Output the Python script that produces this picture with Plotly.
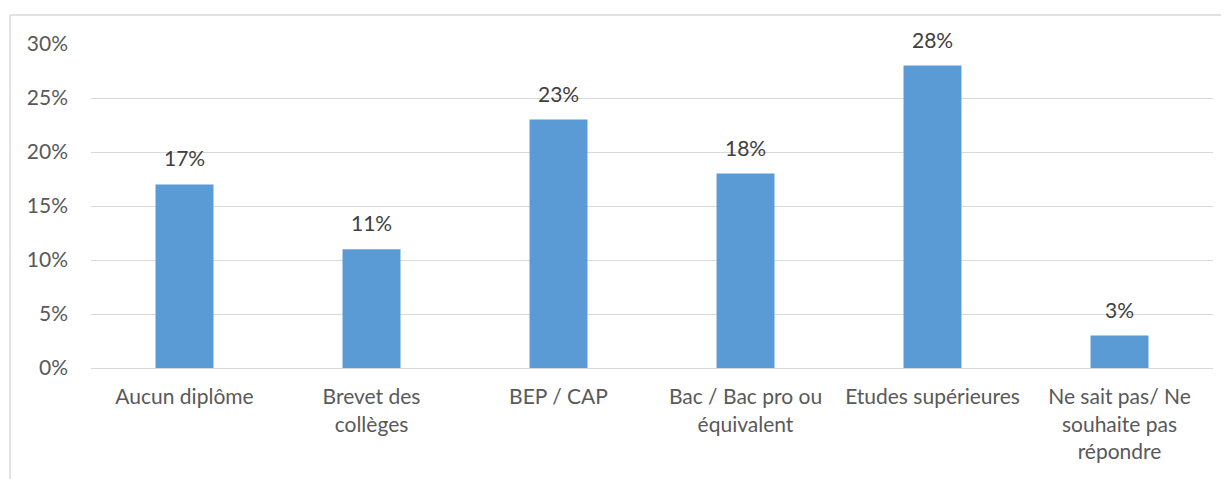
import plotly.graph_objects as go

categories = ["Aucun diplôme", "Brevet des<br>collèges", "BEP / CAP",
              "Bac / Bac pro ou<br>équivalent", "Etudes supérieures",
              "Ne sait pas/ Ne<br>souhaite pas<br>répondre"]
values = [0.17, 0.11, 0.23, 0.18, 0.28, 0.03]
labels = ["17%", "11%", "23%", "18%", "28%", "3%"]
tick_vals = [0, 0.05, 0.10, 0.15, 0.20, 0.25, 0.30]
tick_text = ["0%", "5%", "10%", "15%", "20%", "25%", "30%"]

FONT = "Lato, 'Open Sans', sans-serif"
FS = 21

fig = go.Figure(go.Bar(
    x=categories, y=values,
    marker=dict(color="#5B9BD5", line=dict(width=0)),
    hoverinfo="x+y",
))

for c, v, t in zip(categories, values, labels):
    fig.add_annotation(x=c, y=v, text=t, showarrow=False, yanchor="bottom",
                       yshift=12, font=dict(size=FS, color="#404040", family=FONT))

# page body has an 8px margin
W, H = 1221, 471
ml, mr, mt, mb = 83, 16, 36, 111
pw, ph = W - ml - mr, H - mt - mb

fig.update_layout(
    width=W, height=H,
    margin=dict(l=ml, r=mr, t=mt, b=mb),
    plot_bgcolor="white", paper_bgcolor="white",
    bargap=0.69, showlegend=False,
    font=dict(family=FONT, size=FS, color="#595959"),
    xaxis=dict(showgrid=False, showline=True, linecolor="#D9D9D9", linewidth=1,
               ticks="", ticklabelstandoff=10,
               tickfont=dict(size=FS, color="#595959")),
    yaxis=dict(range=[0, 0.30], tickvals=tick_vals, ticktext=tick_text,
               showgrid=True, gridcolor="#D9D9D9", gridwidth=1,
               zeroline=False, showline=False, ticks="",
               ticklabelstandoff=22,
               tickfont=dict(size=FS, color="#595959")),
)

x_left = (2 - ml) / pw
y_top = 1 + (mt - 7) / ph
fig.add_shape(type="line", xref="paper", yref="paper",
              x0=x_left, x1=1.2, y0=y_top, y1=y_top,
              line=dict(color="#D9D9D9", width=1.5))
fig.add_shape(type="line", xref="paper", yref="paper",
              x0=x_left, x1=x_left, y0=y_top, y1=-1,
              line=dict(color="#D9D9D9", width=1.5))

fig.write_html("out.html")
